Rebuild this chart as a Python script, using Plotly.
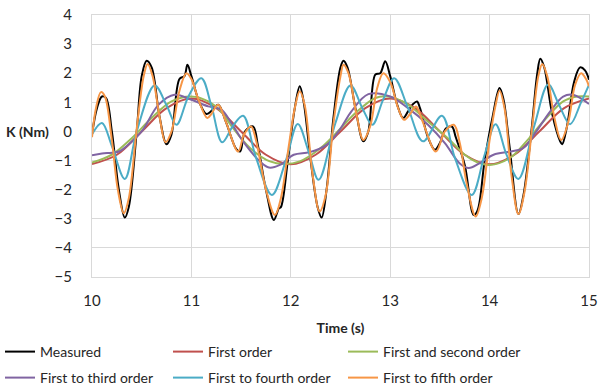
import plotly.graph_objects as go

# ---- data ----
t_measured = [10.0, 10.05, 10.1, 10.14, 10.2, 10.27, 10.33, 10.37, 10.45, 10.5, 10.55, 10.6, 10.68, 10.75, 10.8,
              10.88, 10.93, 10.96, 11.0, 11.08, 11.15, 11.2, 11.27, 11.35, 11.45, 11.49, 11.54, 11.62, 11.67,
              11.75, 11.83, 11.88, 11.9, 11.97, 12.04, 12.09, 12.13, 12.2, 12.27, 12.31, 12.36, 12.43, 12.5,
              12.53, 12.57, 12.65, 12.73, 12.78, 12.85, 12.9, 12.95, 13.0, 13.07, 13.13, 13.18, 13.23, 13.27,
              13.3, 13.38, 13.45, 13.5, 13.56, 13.62, 13.66, 13.75, 13.84, 13.88, 13.95, 14.03, 14.1, 14.14,
              14.2, 14.29, 14.34, 14.42, 14.48, 14.51, 14.55, 14.63, 14.71, 14.73, 14.78, 14.85, 14.91, 14.96, 15.0]
measured = [-0.1, 0.8, 1.2, 1.15, 0.0, -2.0, -2.96, -2.6, 0.0, 1.9, 2.43, 2.2, 0.5, -0.44, -0.1,
            1.8, 1.9, 2.29, 1.9, 1.0, 0.6, 0.7, 0.92, 0.3, -0.6, -0.69, 0.0, 0.17, -0.5,
            -2.0, -3.04, -2.64, -2.6, -1.0, 0.8, 1.55, 1.0, -1.0, -2.6, -2.96, -2.0, 0.5, 2.2,
            2.43, 2.2, 0.8, -0.34, 0.0, 1.95, 2.0, 2.41, 1.9, 0.92, 0.46, 0.69, 0.94, 1.03,
            0.8, -0.2, -0.63, -0.4, 0.1, 0.17, -0.2, -1.15, -2.87, -2.7, -1.0, 0.5, 1.49, 1.1,
            -0.5, -2.84, -2.2, 0.0, 2.0, 2.5, 2.2, 0.6, -0.34, -0.44, 0.2, 1.7, 2.2, 2.1, 1.78]

t_first = [10.0, 10.25, 10.5, 10.75, 11.0, 11.25, 11.5, 11.75, 12.0, 12.25, 12.5, 12.75, 13.0, 13.25, 13.5,
           13.75, 14.0, 14.25, 14.5, 14.75, 15.0]
first = [-1.12, -0.8, 0.0, 0.8, 1.13, 0.8, 0.0, -0.8, -1.13, -0.8, 0.0, 0.8, 1.13, 0.8, 0.0,
         -0.8, -1.13, -0.8, 0.0, 0.8, 1.13]

t_second = [10.0, 10.2, 10.4, 10.6, 10.8, 11.0, 11.17, 11.3, 11.4, 11.59, 11.79, 11.93, 12.09, 12.3, 12.5,
            12.65, 12.85, 12.98, 13.18, 13.38, 13.58, 13.75, 13.87, 14.0, 14.2, 14.37, 14.54, 14.74, 14.88, 15.0]
second = [-1.07, -0.8, -0.23, 0.46, 1.03, 1.2, 1.03, 0.68, 0.2, -0.57, -1.03, -1.12, -1.03, -0.57, 0.1,
          0.63, 1.15, 1.2, 0.92, 0.34, -0.23, -0.8, -1.05, -1.15, -0.92, -0.34, 0.34, 1.03, 1.2, 1.2]

t_third = [10.0, 10.1, 10.2, 10.27, 10.35, 10.5, 10.67, 10.83, 11.0, 11.17, 11.3, 11.4, 11.52, 11.69, 11.78,
           11.89, 12.03, 12.19, 12.36, 12.5, 12.61, 12.78, 13.0, 13.18, 13.38, 13.55, 13.7, 13.79, 13.9, 14.04,
           14.21, 14.34, 14.47, 14.61, 14.74, 14.84, 15.0]
third = [-0.82, -0.76, -0.73, -0.69, -0.5, 0.0, 0.92, 1.26, 1.09, 0.86, 0.75, 0.3, -0.34, -1.03, -1.24,
         -1.15, -0.8, -0.71, -0.46, 0.1, 0.69, 1.28, 1.2, 0.8, 0.23, -0.4, -1.1, -1.26, -1.09, -0.8,
         -0.69, -0.57, 0.0, 0.69, 1.2, 1.26, 0.94]

t_fourth = [10.0, 10.1, 10.2, 10.33, 10.45, 10.63, 10.75, 10.85, 10.97, 11.1, 11.2, 11.31, 11.42, 11.52,
            11.65, 11.81, 11.95, 12.07, 12.18, 12.28, 12.45, 12.6, 12.72, 12.82, 12.93, 13.04, 13.18, 13.33,
            13.52, 13.65, 13.82, 13.95, 14.06, 14.17, 14.29, 14.45, 14.59, 14.7, 14.81, 14.92, 15.0]
fourth = [-0.1, 0.29, -0.5, -1.63, 0.0, 1.58, 0.9, 0.23, 1.2, 1.83, 0.9, -0.37, 0.2, 0.54,
          -0.9, -2.18, -1.0, 0.26, -0.7, -1.66, 0.3, 1.58, 0.8, 0.23, 1.1, 1.83, 0.8, -0.34,
          0.54, -0.9, -2.18, -0.8, 0.25, -0.8, -1.63, 0.2, 1.61, 0.9, 0.25, 1.0, 1.6]

t_fifth = [10.0, 10.04, 10.09, 10.13, 10.2, 10.26, 10.32, 10.37, 10.45, 10.52, 10.56, 10.61, 10.68, 10.74,
           10.8, 10.88, 10.95, 11.0, 11.07, 11.16, 11.2, 11.27, 11.35, 11.47, 11.53, 11.6, 11.65, 11.75,
           11.84, 11.9, 11.98, 12.04, 12.09, 12.14, 12.22, 12.29, 12.35, 12.43, 12.5, 12.53, 12.58, 12.66,
           12.73, 12.8, 12.87, 12.93, 13.0, 13.08, 13.14, 13.2, 13.26, 13.32, 13.46, 13.55, 13.64, 13.7,
           13.77, 13.86, 13.92, 14.0, 14.06, 14.1, 14.15, 14.22, 14.29, 14.35, 14.43, 14.49, 14.53, 14.58,
           14.65, 14.72, 14.79, 14.86, 14.92, 14.97, 15.0]
fifth = [-0.2, 0.8, 1.35, 1.2, -0.3, -2.0, -2.81, -2.3, 0.1, 1.9, 2.32, 1.9, 0.5, -0.37,
         0.0, 1.4, 2.0, 1.8, 1.1, 0.46, 0.6, 0.92, 0.3, -0.69, -0.1, 0.17, -0.3, -2.0,
         -2.87, -2.3, -0.5, 0.8, 1.38, 0.9, -1.5, -2.75, -2.2, 0.3, 1.9, 2.29, 2.0, 0.6,
         -0.29, 0.2, 1.5, 2.0, 1.7, 0.8, 0.4, 0.6, 0.86, 0.4, -0.69, 0.0, 0.23, -0.4,
         -1.8, -2.92, -2.3, -0.3, 0.9, 1.4, 0.8, -1.5, -2.84, -2.1, 0.2, 1.9, 2.32, 1.9,
         0.5, -0.29, 0.3, 1.6, 2.0, 1.8, 1.55]

names = ["Measured", "First order", "First and second order",
         "First to third order", "First to fourth order", "First to fifth order"]
times = [t_measured, t_first, t_second, t_third, t_fourth, t_fifth]
values = [measured, first, second, third, fourth, fifth]
colors = ["#000000", "#C0504D", "#9BBB59", "#8064A2", "#4BACC6", "#F79646"]

fig = go.Figure()
legend_ids = ["legend", "legend2", "legend3", "legend4", "legend5", "legend6"]
for i, (name, t, v, col) in enumerate(zip(names, times, values, colors)):
    fig.add_trace(go.Scatter(x=t, y=v, name=name, mode="lines",
                             line=dict(color=col, width=2, shape="spline", smoothing=1.0),
                             legend=legend_ids[i]))

FONT = "Lato"
grid = "#D9D9D9"
# legend slot positions (pixels in the 600x392 figure): 3 columns x 2 rows
col_px = [-7, 168, 343]
row_px = [352, 378]
legends = {}
for i, lid in enumerate(legend_ids):
    legends[lid] = dict(orientation="h", xref="container", yref="container",
                        x=col_px[i % 3] / 600, xanchor="left",
                        y=1 - row_px[i // 3] / 392, yanchor="middle",
                        itemwidth=30, font=dict(size=14, color="#262626"),
                        bgcolor="rgba(0,0,0,0)", borderwidth=0)

fig.update_layout(
    width=600, height=392,
    margin=dict(l=92, r=11, t=15, b=115, autoexpand=False),
    paper_bgcolor="white", plot_bgcolor="white",
    font=dict(family=FONT, size=14, color="#262626"),
    xaxis=dict(range=[10, 15], dtick=1, tick0=10, showgrid=True, gridcolor=grid, gridwidth=1,
               zeroline=False, showline=True, linecolor=grid, mirror=True, ticks="",
               ticklabelstandoff=10, automargin=False,
               tickfont=dict(size=15),
               title=dict(text="<b>Time (s)</b>", font=dict(size=14), standoff=18)),
    yaxis=dict(range=[-5, 4], dtick=1, tick0=0, showgrid=True, gridcolor=grid, gridwidth=1,
               zeroline=False, showline=True, linecolor=grid, mirror=True, ticks="",
               ticklabelstandoff=16, automargin=False,
               tickfont=dict(size=15)),
    showlegend=True,
    **legends,
)
fig.add_annotation(text="<b>K (Nm)</b>", xref="paper", yref="y", x=0, y=0,
                   xanchor="right", xshift=-41, showarrow=False, font=dict(size=14))

fig.write_html("out.html")
